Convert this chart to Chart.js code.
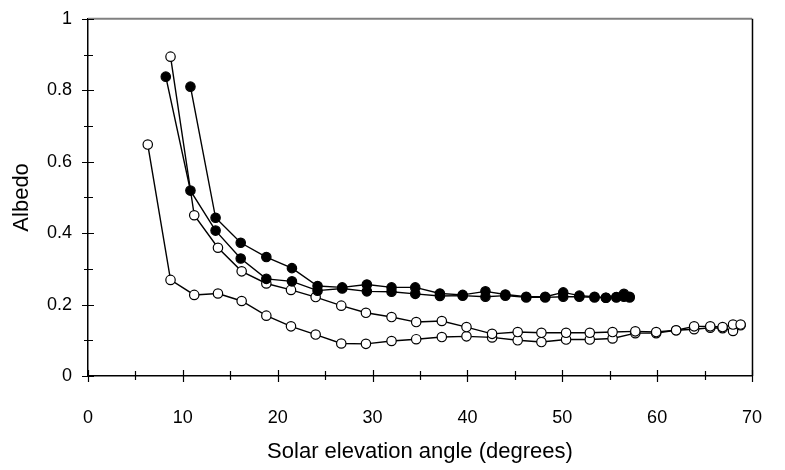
<!DOCTYPE html>
<html>
<head>
<meta charset="utf-8">
<script src="https://cdn.jsdelivr.net/npm/chart.js@4/dist/chart.umd.min.js"></script>
<style>
  html, body { margin: 0; padding: 0; background: #fff; }
  #wrap { width: 785px; height: 470px; }
</style>
</head>
<body>
<div id="wrap"><canvas id="albedo-chart"></canvas></div>
<script>
// solar elevation (deg) and albedo
const filledAx = [8.2, 10.8, 13.45, 16.1, 18.8, 21.5, 24.2, 26.8, 29.4, 32.0, 34.5, 37.1, 39.5, 41.9, 44.0, 46.2, 48.2, 50.1, 51.8, 53.4, 54.6, 55.7, 56.5, 57.1];
const filledAy = [0.838, 0.519, 0.407, 0.329, 0.272, 0.265, 0.239, 0.245, 0.237, 0.236, 0.230, 0.224, 0.225, 0.222, 0.225, 0.220, 0.220, 0.222, 0.222, 0.220, 0.219, 0.220, 0.222, 0.220];

const filledBx = [10.8, 13.45, 16.1, 18.8, 21.5, 24.2, 26.8, 29.4, 32.0, 34.5, 37.1, 39.5, 41.9, 44.0, 46.2, 48.2, 50.1, 51.8, 53.4, 54.6, 55.7, 56.5, 57.1];
const filledBy = [0.810, 0.443, 0.373, 0.333, 0.302, 0.252, 0.248, 0.256, 0.248, 0.248, 0.231, 0.227, 0.237, 0.228, 0.222, 0.222, 0.234, 0.225, 0.222, 0.219, 0.221, 0.230, 0.222];

const openAx = [8.7, 11.2, 13.7, 16.2, 18.8, 21.4, 24.0, 26.7, 29.3, 32.0, 34.6, 37.3, 39.9, 42.6, 45.3, 47.8, 50.4, 52.9, 55.3, 57.7, 59.9, 62.0, 63.9, 65.6, 66.9, 68.0, 68.8];
const openAy = [0.894, 0.450, 0.359, 0.293, 0.259, 0.241, 0.221, 0.197, 0.177, 0.165, 0.151, 0.154, 0.137, 0.118, 0.123, 0.121, 0.121, 0.121, 0.123, 0.125, 0.123, 0.128, 0.139, 0.139, 0.137, 0.144, 0.144];

const openBx = [6.3, 8.7, 11.2, 13.7, 16.2, 18.8, 21.4, 24.0, 26.7, 29.3, 32.0, 34.6, 37.3, 39.9, 42.6, 45.3, 47.8, 50.4, 52.9, 55.3, 57.7, 59.9, 62.0, 63.9, 65.6, 66.9, 68.0, 68.8];
const openBy = [0.648, 0.269, 0.227, 0.231, 0.210, 0.169, 0.139, 0.116, 0.091, 0.090, 0.098, 0.103, 0.109, 0.111, 0.108, 0.100, 0.095, 0.102, 0.102, 0.105, 0.120, 0.120, 0.128, 0.131, 0.135, 0.134, 0.126, 0.142];

const xTitle = 'Solar elevation angle (degrees)';
const yTitle = 'Albedo';

const toPoints = (xs, ys) => xs.map((x, i) => ({ x: x, y: ys[i] }));

const makeSet = (label, xs, ys, filled) => ({
  label: label,
  data: toPoints(xs, ys),
  borderColor: '#000',
  borderWidth: 1.4,
  pointRadius: 4.7,
  pointBorderWidth: 1.2,
  pointBorderColor: '#000',
  pointBackgroundColor: filled ? '#000' : '#fff',
  backgroundColor: filled ? '#000' : '#fff',
  tension: 0,
  clip: false,
});

// ticks crossing the axis lines + frame on top/right
const axisMarks = {
  id: 'axisMarks',
  afterDatasetsDraw(chart) {
    const ctx = chart.ctx;
    const area = chart.chartArea;
    const xs = chart.scales.x, ys = chart.scales.y;
    ctx.save();
    ctx.strokeStyle = '#808080';
    ctx.lineWidth = 2;
    ctx.beginPath();
    ctx.moveTo(area.left, area.top);
    ctx.lineTo(area.right, area.top);
    ctx.stroke();
    ctx.strokeStyle = '#000';
    ctx.lineWidth = 1.5;
    ctx.beginPath();
    ctx.moveTo(area.right + 0.5, area.top);
    ctx.lineTo(area.right + 0.5, area.bottom);
    ctx.stroke();

    ctx.lineWidth = 1.2;
    ctx.beginPath();
    xs.ticks.forEach((t, i) => {
      const px = Math.round(xs.getPixelForTick(i)) + 0.5;
      const major = Math.round(t.value) % 10 === 0;
      ctx.moveTo(px, area.bottom - (major ? 6 : 5));
      ctx.lineTo(px, area.bottom + (major ? 6 : 4));
    });
    ys.ticks.forEach((t, i) => {
      const py = Math.round(ys.getPixelForTick(i)) + 0.5;
      const major = Math.round(t.value * 10) % 2 === 0;
      ctx.moveTo(area.left - (major ? 6 : 4), py);
      ctx.lineTo(area.left + (major ? 6 : 5), py);
    });
    ctx.stroke();
    ctx.restore();
  }
};

Chart.defaults.font.family = '"Liberation Sans", Arial, sans-serif';
Chart.defaults.color = '#000';

new Chart(document.getElementById('albedo-chart'), {
  type: 'line',
  data: {
    datasets: [
      makeSet('Filled A', filledAx, filledAy, true),
      makeSet('Filled B', filledBx, filledBy, true),
      makeSet('Open A', openAx, openAy, false),
      makeSet('Open B', openBx, openBy, false),
    ]
  },
  plugins: [axisMarks],
  options: {
    responsive: true,
    maintainAspectRatio: false,
    animation: false,
    layout: { padding: { top: 14, right: 16, left: 0, bottom: 0 } },
    plugins: {
      legend: { display: false },
      tooltip: { enabled: false },
    },
    scales: {
      x: {
        type: 'linear',
        min: 0,
        max: 70,
        grid: { display: false },
        border: { display: true, color: '#000', width: 1.5 },
        ticks: {
          stepSize: 5,
          padding: 23,
          autoSkip: false,
          maxRotation: 0,
          font: { size: 18 },
          callback: (v) => (Math.round(v) % 10 === 0 ? String(v) : ''),
        },
        title: {
          display: true,
          text: xTitle,
          font: { size: 22 },
          padding: { top: 8, bottom: 5 },
        },
        afterFit: (s) => { s.height = 94; },
      },
      y: {
        min: 0,
        max: 1,
        grid: { display: false },
        border: { display: true, color: '#000', width: 1.5 },
        ticks: {
          stepSize: 0.1,
          padding: 8,
          autoSkip: false,
          font: { size: 18 },
          callback: (v) => {
            const k = Math.round(v * 10);
            if (k % 2 !== 0) return '';
            return k === 0 ? '0' : k === 10 ? '1' : (k / 10).toString();
          },
        },
        title: {
          display: true,
          text: yTitle,
          font: { size: 22 },
          padding: { top: 9, bottom: 8 },
        },
        afterFit: (s) => { s.width = 88; },
      }
    }
  }
});
</script>
</body>
</html>
